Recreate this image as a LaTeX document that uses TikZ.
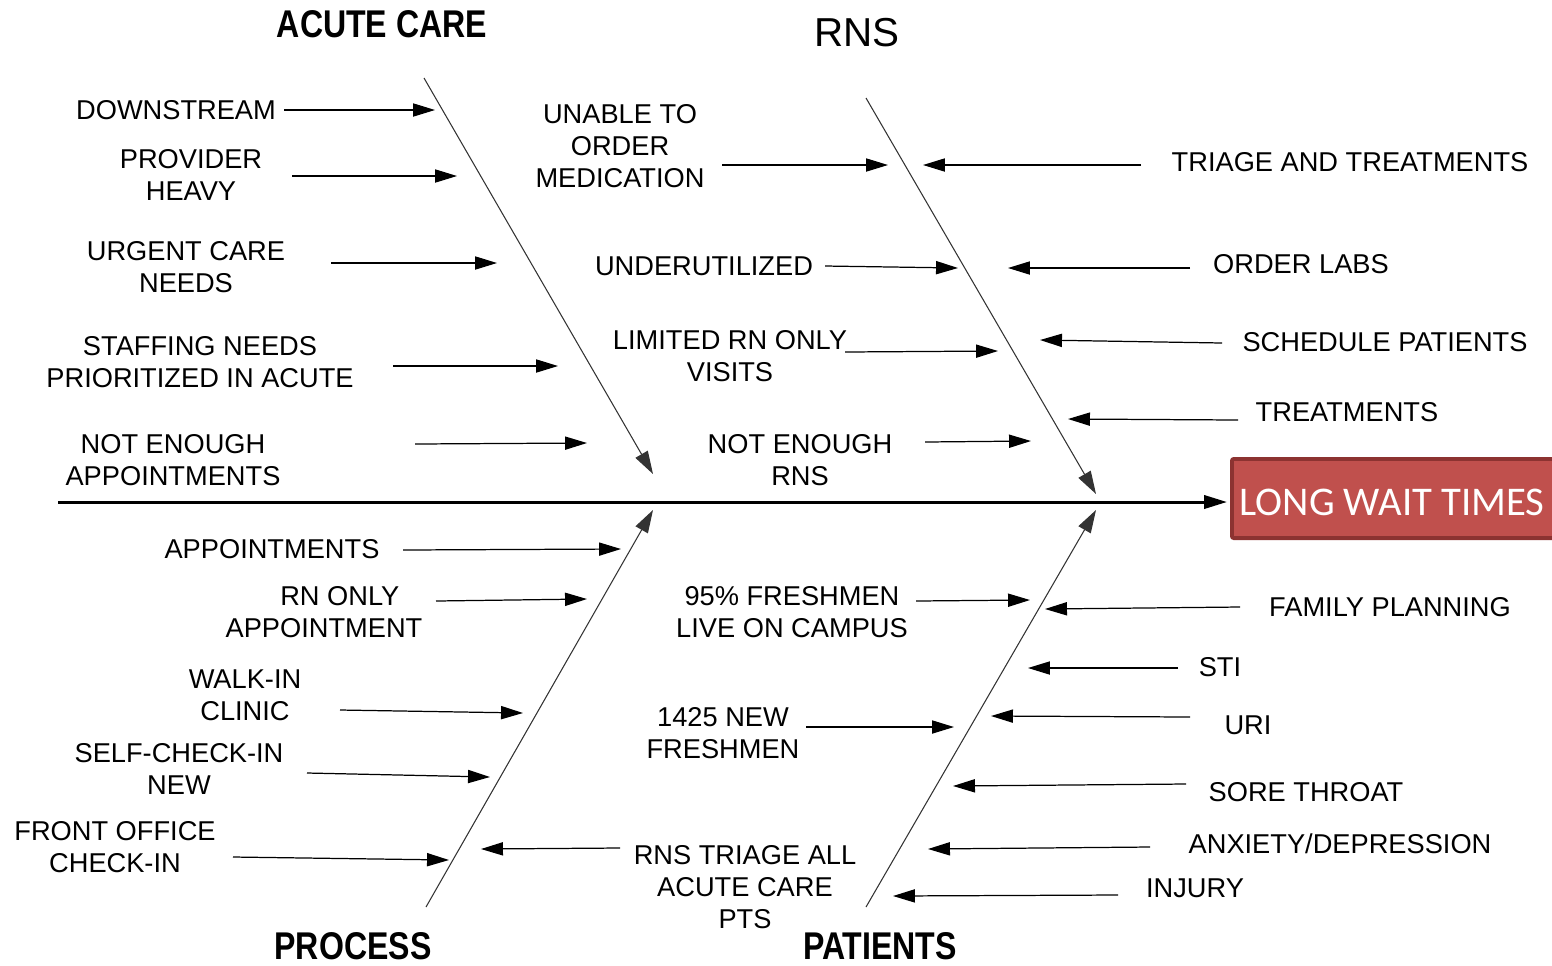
\documentclass[tikz,border=0pt]{standalone}
\usepackage{fontspec}
\setmainfont{Liberation Sans}
\newfontfamily\calibrifont{Carlito}
\usetikzlibrary{arrows.meta}
\definecolor{boxred}{HTML}{C0504D}
\definecolor{boxedge}{HTML}{8C3331}
\tikzset{
  lbl/.style={inner sep=0pt, align=center, font=\fontsize{15.5pt}{18.4pt}\selectfont},
  ttl/.style={inner sep=0pt, font=\bfseries\fontsize{22pt}{24pt}\selectfont, xscale=0.83},
  sub/.style={line width=0.7pt, -{Triangle[length=12.5pt,width=7.5pt]}},
  bone/.style={line width=0.6pt, draw=black!80, -{Triangle[length=13pt,width=8pt]}},
  spine/.style={line width=1.7pt, -{Triangle[length=13pt,width=7.5pt]}}
}
\begin{document}
\begin{tikzpicture}[x=0.02cm,y=-0.02cm]
\useasboundingbox (0,0) rectangle (1552,965);
% effect box
\fill[boxedge, rounded corners=2pt] (1230,457) rectangle (1570,540);
\fill[boxred] (1234,461) rectangle (1570,536);
\node[inner sep=0pt, text=white, font=\calibrifont\fontsize{23.2pt}{26pt}\selectfont] (effect) at (1392,502) {LONG WAIT TIMES};
% spine
\coordinate (spS) at (58,502);
\coordinate (spE) at (1227,502);
\draw[spine] (spS) -- (spE);
% bones
\coordinate (b1s) at (424,78);  \coordinate (b1e) at (653,474);
\coordinate (b2s) at (866,98);  \coordinate (b2e) at (1096,494);
\coordinate (b3s) at (426,907); \coordinate (b3e) at (653,510);
\coordinate (b4s) at (866,907); \coordinate (b4e) at (1096,510);
\draw[bone] (b1s) -- (b1e);
\draw[bone] (b2s) -- (b2e);
\draw[bone] (b3s) -- (b3e);
\draw[bone] (b4s) -- (b4e);
% titles
\node[ttl] (tAcute) at (382,24) {ACUTE CARE};
\node[inner sep=0pt, font=\fontsize{23pt}{24pt}\selectfont] (tRns) at (857,33) {RNS};
\node[ttl] (tProc) at (353,946) {PROCESS};
\node[ttl] (tPat) at (880,946) {PATIENTS};
% ---- ACUTE CARE causes
\node[lbl] (a1) at (176,110) {DOWNSTREAM};
\node[lbl] (a2) at (191,175) {PROVIDER\\HEAVY};
\node[lbl] (a3) at (186,267) {URGENT CARE\\NEEDS};
\node[lbl] (a4) at (200,362) {STAFFING NEEDS\\PRIORITIZED IN ACUTE};
\node[lbl] (a5) at (173,460) {NOT ENOUGH\\APPOINTMENTS};
\coordinate (a1s) at (284,110); \coordinate (a1e) at (435,110);
\coordinate (a2s) at (292,176); \coordinate (a2e) at (457,176);
\coordinate (a3s) at (331,263); \coordinate (a3e) at (497,263);
\coordinate (a4s) at (393,366); \coordinate (a4e) at (558,366);
\coordinate (a5s) at (415,444); \coordinate (a5e) at (587,443);
\foreach \i in {1,...,5} {\draw[sub] (a\i s) -- (a\i e);}
% ---- RNS causes
\node[lbl] (r1) at (620,146) {UNABLE TO\\ORDER\\MEDICATION};
\node[lbl] (r2) at (1350,162) {TRIAGE AND TREATMENTS};
\node[lbl] (r3) at (704,266) {UNDERUTILIZED};
\node[lbl] (r4) at (1301,264) {ORDER LABS};
\node[lbl] (r5) at (730,356) {LIMITED RN ONLY\\VISITS};
\node[lbl] (r6) at (1385,342) {SCHEDULE PATIENTS};
\node[lbl] (r7) at (1347,412) {TREATMENTS};
\node[lbl] (r8) at (800,460) {NOT ENOUGH\\RNS};
\coordinate (r1s) at (722,165);  \coordinate (r1e) at (888,165);
\coordinate (r2s) at (1141,165); \coordinate (r2e) at (923,165);
\coordinate (r3s) at (825,266);  \coordinate (r3e) at (958,268);
\coordinate (r4s) at (1190,268); \coordinate (r4e) at (1008,268);
\coordinate (r5s) at (845,352);  \coordinate (r5e) at (998,351);
\coordinate (r6s) at (1222,343); \coordinate (r6e) at (1040,340);
\coordinate (r7s) at (1238,420); \coordinate (r7e) at (1068,419);
\coordinate (r8s) at (925,442);  \coordinate (r8e) at (1031,441);
\foreach \i in {1,...,8} {\draw[sub] (r\i s) -- (r\i e);}
% ---- PROCESS causes
\node[lbl] (p1) at (272,549) {APPOINTMENTS};
\node[lbl] (p2) at (324,612) {\hspace*{18pt}RN ONLY\\APPOINTMENT};
\node[lbl] (p3) at (245,695) {WALK-IN\\CLINIC};
\node[lbl] (p4) at (179,769) {SELF-CHECK-IN\\NEW};
\node[lbl] (p5) at (115,847) {FRONT OFFICE\\CHECK-IN};
\coordinate (p1s) at (403,550); \coordinate (p1e) at (621,549);
\coordinate (p2s) at (436,601); \coordinate (p2e) at (587,599);
\coordinate (p3s) at (340,710); \coordinate (p3e) at (523,713);
\coordinate (p4s) at (307,773); \coordinate (p4e) at (490,777);
\coordinate (p5s) at (233,857); \coordinate (p5e) at (449,860);
\foreach \i in {1,...,5} {\draw[sub] (p\i s) -- (p\i e);}
% ---- PATIENTS causes
\node[lbl] (q1) at (792,612) {95\% FRESHMEN\\LIVE ON CAMPUS};
\node[lbl] (q2) at (1390,607) {FAMILY PLANNING};
\node[lbl] (q3) at (1220,667) {STI};
\node[lbl] (q4) at (1248,725) {URI};
\node[lbl] (q5) at (723,733) {1425 NEW\\FRESHMEN};
\node[lbl] (q6) at (1306,792) {SORE THROAT};
\node[lbl] (q7) at (1340,844) {ANXIETY/DEPRESSION};
\node[lbl] (q8) at (745,887) {RNS TRIAGE ALL\\ACUTE CARE\\PTS};
\node[lbl] (q9) at (1195,888) {INJURY};
\coordinate (q1s) at (916,601);  \coordinate (q1e) at (1030,600);
\coordinate (q2s) at (1240,607); \coordinate (q2e) at (1045,609);
\coordinate (q3s) at (1178,668); \coordinate (q3e) at (1028,668);
\coordinate (q4s) at (1190,717); \coordinate (q4e) at (991,716);
\coordinate (q5s) at (806,727);  \coordinate (q5e) at (954,727);
\coordinate (q6s) at (1186,784); \coordinate (q6e) at (953,786);
\coordinate (q7s) at (1150,847); \coordinate (q7e) at (928,849);
\coordinate (q8s) at (620,848);  \coordinate (q8e) at (481,849);
\coordinate (q9s) at (1118,895); \coordinate (q9e) at (893,896);
\foreach \i in {1,...,9} {\draw[sub] (q\i s) -- (q\i e);}
\end{tikzpicture}
\end{document}
